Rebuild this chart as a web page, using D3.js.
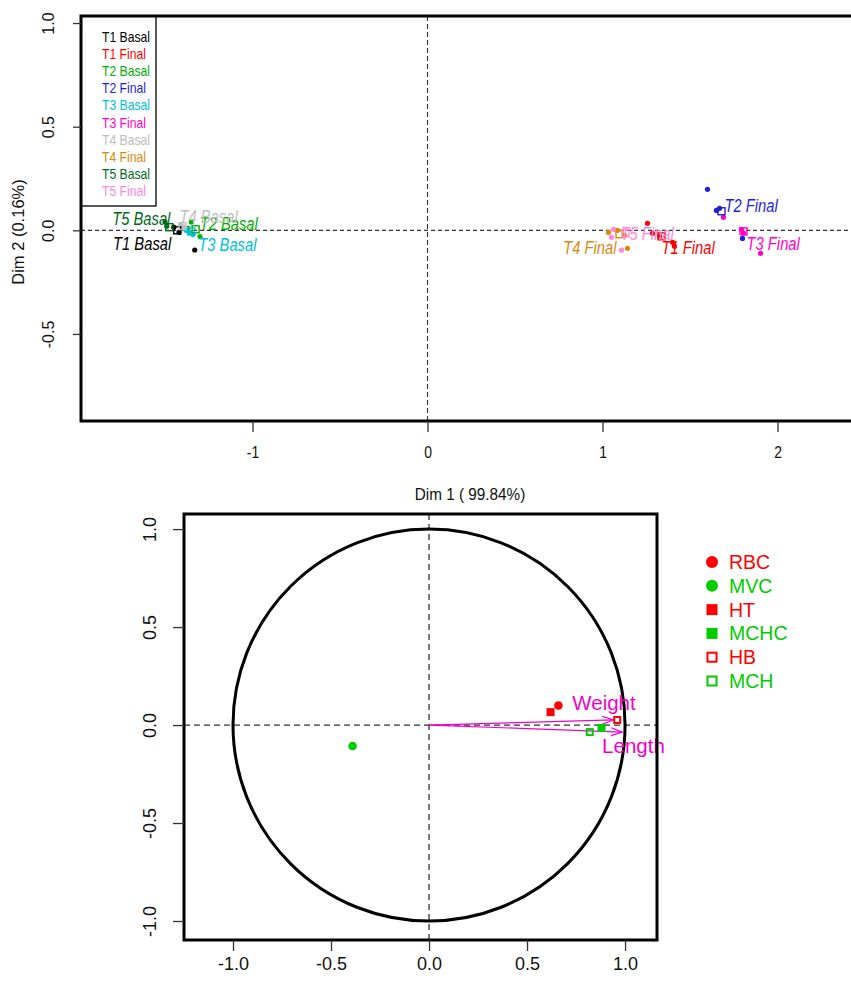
<!DOCTYPE html>
<html>
<head>
<meta charset="utf-8">
<script src="https://cdn.jsdelivr.net/npm/d3@7"></script>
<style>
  body { margin: 0; background: #fff; }
  svg { display: block; }
</style>
</head>
<body>
<div id="chart"></div>
<script>
// ---- individuals factor map (top) ----
var groups = ["T1 Basal", "T1 Final", "T2 Basal", "T2 Final", "T3 Basal",
              "T3 Final", "T4 Basal", "T4 Final", "T5 Basal", "T5 Final"];
var groupColors = ["#000000", "#ff0000", "#00b000", "#1f1fd8", "#00bfdf",
                   "#ff00cc", "#bebebe", "#d88a10", "#006a1a", "#ff88dd"];

// individual points per group [dim1, dim2]
var groupPoints = {
  "T1 Basal": [[-1.42, -0.01], [-1.33, -0.095], [-1.45, 0.015]],
  "T1 Final": [[1.257, 0.034], [1.286, -0.014], [1.326, -0.029], [1.411, -0.077], [1.40, -0.058]],
  "T2 Basal": [[-1.35, 0.04], [-1.30, -0.03], [-1.37, 0.01]],
  "T2 Final": [[1.60, 0.198], [1.651, 0.096], [1.669, 0.106], [1.80, -0.039]],
  "T3 Basal": [[-1.36, -0.01], [-1.38, 0.0], [-1.34, -0.02]],
  "T3 Final": [[1.691, 0.063], [1.794, 0.005], [1.806, -0.014], [1.903, -0.111]],
  "T4 Basal": [[-1.41, 0.025], [-1.39, 0.015]],
  "T4 Final": [[1.034, -0.01], [1.086, 0.0], [1.126, -0.024], [1.143, -0.087]],
  "T5 Basal": [[-1.50, 0.04], [-1.49, 0.02]],
  "T5 Final": [[1.051, -0.034], [1.109, -0.096], [1.063, 0.005]]
};
// group centres [dim1, dim2]
var groupMeans = {
  "T1 Basal": [-1.43, 0.0],
  "T1 Final": [1.337, -0.029],
  "T2 Basal": [-1.325, 0.005],
  "T2 Final": [1.68, 0.092],
  "T3 Basal": [-1.35, -0.005],
  "T3 Final": [1.806, -0.005],
  "T4 Basal": [-1.40, 0.02],
  "T4 Final": [1.097, -0.019],
  "T5 Basal": [-1.475, 0.015],
  "T5 Final": [1.131, -0.014]
};
// label placement relative to centre: [dx, dy, anchor]
var labelOffsets = {
  "T1 Basal": [-6, 13, "end"],
  "T1 Final": [0, 11, "start"],
  "T2 Basal": [4, -6, "start"],
  "T2 Final": [3, -6, "start"],
  "T3 Basal": [7, 13, "start"],
  "T3 Final": [3, 12, "start"],
  "T4 Basal": [-3, -9, "start"],
  "T4 Final": [-3, 13, "end"],
  "T5 Basal": [1, -9, "end"],
  "T5 Final": [-5, 0, "start"]
};
var topXTicks = [-1, 0, 1, 2];
var topYTicks = [-0.5, 0.0, 0.5, 1.0];

// ---- variables factor map (bottom) ----
var varNames = ["RBC", "MVC", "HT", "MCHC", "HB", "MCH"];
var varColors = ["#ff0000", "#00cc00", "#ff0000", "#00cc00", "#ff0000", "#00cc00"];
var varShapes = ["circle", "circle", "square", "square", "hollow", "hollow"];
var varCoords = [[0.66, 0.10], [-0.39, -0.107], [0.62, 0.066], [0.88, -0.015], [0.96, 0.026], [0.82, -0.036]];
var arrowNames = ["Weight", "Length"];
var arrowCoords = [[0.94, 0.026], [0.985, -0.036]];
var botTicks = [-1.0, -0.5, 0.0, 0.5, 1.0];

var W = 851, H = 981;
var NARROW = 0.82; // condensed look of the original (Arial Narrow)
var svg = d3.select("#chart").append("svg").attr("width", W).attr("height", H)
  .attr("font-family", "Liberation Sans, Arial, sans-serif");

// condensed text helper
function narrowText(sel, x, y, str, size, color, anchor, italic, k) {
  return sel.append("text")
    .attr("transform", "translate(" + x + "," + y + ") scale(" + (k || NARROW) + ",1)")
    .attr("dy", "0.35em")
    .attr("text-anchor", anchor || "start")
    .attr("font-style", italic ? "italic" : "normal")
    .attr("font-size", size)
    .attr("fill", color)
    .text(str);
}

// ================= TOP PANEL =================
var xTop = d3.scaleLinear().domain([-1.98, 2.6]).range([81, 882.5]);
var yTop = d3.scaleLinear().domain([-0.92, 1.034]).range([421, 16]);

var topG = svg.append("g");

svg.append("clipPath").attr("id", "clipTop")
  .append("rect").attr("x", 81).attr("y", 16).attr("width", W - 81).attr("height", 405);

var plotTop = topG.append("g").attr("clip-path", "url(#clipTop)");

// reference lines
plotTop.append("line")
  .attr("x1", 81).attr("x2", W).attr("y1", yTop(0)).attr("y2", yTop(0))
  .attr("stroke", "#333").attr("stroke-width", 1.3).attr("stroke-dasharray", "4,3");
plotTop.append("line")
  .attr("x1", xTop(0)).attr("x2", xTop(0)).attr("y1", 16).attr("y2", 421)
  .attr("stroke", "#333").attr("stroke-width", 1.1).attr("stroke-dasharray", "5,3");

// individuals
groups.forEach(function(g, i) {
  plotTop.selectAll(null).data(groupPoints[g]).enter().append("circle")
    .attr("cx", function(d) { return xTop(d[0]); })
    .attr("cy", function(d) { return yTop(d[1]); })
    .attr("r", 2.6)
    .attr("fill", groupColors[i]);
});
// group centres
groups.forEach(function(g, i) {
  var m = groupMeans[g];
  plotTop.append("rect")
    .attr("x", xTop(m[0]) - 3.5).attr("y", yTop(m[1]) - 3.5)
    .attr("width", 7).attr("height", 7)
    .attr("fill", "none").attr("stroke", groupColors[i]).attr("stroke-width", 1.4);
});
// group labels
groups.forEach(function(g, i) {
  var m = groupMeans[g], o = labelOffsets[g];
  narrowText(plotTop, xTop(m[0]) + o[0], yTop(m[1]) + o[1], g, 18, groupColors[i], o[2], true);
});

// legend
var leg = plotTop.append("g");
leg.append("rect").attr("x", 81).attr("y", 16).attr("width", 75).attr("height", 190)
  .attr("fill", "#fff").attr("stroke", "#000").attr("stroke-width", 1.3);
groups.forEach(function(g, i) {
  narrowText(leg, 102, 37 + i * 17.1, g, 14.5, groupColors[i], "start", false, 0.84);
});

// box
topG.append("path")
  .attr("d", "M" + (W + 5) + ",16 H81 V421 H" + (W + 5))
  .attr("fill", "none").attr("stroke", "#000").attr("stroke-width", 3);

// axes
var xAxisTop = topG.append("g").attr("transform", "translate(0,421)")
  .call(d3.axisBottom(xTop).tickValues(topXTicks).tickSize(11).tickPadding(14)
    .tickFormat(function(d) { return String(d); }));
xAxisTop.select(".domain").remove();
xAxisTop.selectAll("line").attr("stroke", "#333").attr("stroke-width", 1.3);
xAxisTop.selectAll("text").attr("font-size", 17).attr("fill", "#111")
  .attr("font-family", null)
  .attr("transform", "scale(0.82,1)");

var yAxisTop = topG.append("g").attr("transform", "translate(81,0)")
  .call(d3.axisLeft(yTop).tickValues(topYTicks).tickSize(8)
    .tickFormat(function(d) { return d.toFixed(1); }));
yAxisTop.select(".domain").remove();
yAxisTop.selectAll("line").attr("stroke", "#333").attr("stroke-width", 1.3);
yAxisTop.selectAll("text")
  .attr("font-size", 16).attr("fill", "#111")
  .attr("font-family", null)
  .attr("text-anchor", "middle")
  .attr("transform", "translate(-33,0) rotate(-90)")
  .attr("x", 0).attr("dy", "0.35em");

// axis titles (the x title is centred on the full, cropped plot width)
narrowText(topG, 470, 494, "Dim 1 ( 99.84%)", 17, "#111", "middle", false, 0.9);
topG.append("text").attr("transform", "translate(18,232) rotate(-90)")
  .attr("text-anchor", "middle").attr("dy", "0.35em")
  .attr("font-size", 16.5).attr("fill", "#111").text("Dim 2 (0.16%)");

// ================= BOTTOM PANEL =================
var xBot = d3.scaleLinear().domain([-1.25, 1.163]).range([184, 657]);
var yBot = d3.scaleLinear().domain([-1.097, 1.077]).range([940, 514]);

var bot = svg.append("g");

bot.append("line")
  .attr("x1", 184).attr("x2", 657).attr("y1", yBot(0)).attr("y2", yBot(0))
  .attr("stroke", "#333").attr("stroke-width", 1.3).attr("stroke-dasharray", "6,4");
bot.append("line")
  .attr("x1", xBot(0)).attr("x2", xBot(0)).attr("y1", 514).attr("y2", 940)
  .attr("stroke", "#333").attr("stroke-width", 1.3).attr("stroke-dasharray", "6,4");

// correlation circle
bot.append("ellipse")
  .attr("cx", xBot(0)).attr("cy", yBot(0))
  .attr("rx", xBot(1) - xBot(0)).attr("ry", yBot(0) - yBot(1))
  .attr("fill", "none").attr("stroke", "#000").attr("stroke-width", 3);

// arrows
svg.append("defs").append("marker")
  .attr("id", "ah").attr("viewBox", "0 0 12 10").attr("refX", 11).attr("refY", 5)
  .attr("markerWidth", 12).attr("markerHeight", 10).attr("markerUnits", "userSpaceOnUse")
  .attr("orient", "auto")
  .append("path").attr("d", "M0,1 L11,5 L0,9").attr("fill", "none")
  .attr("stroke", "#ee00cc").attr("stroke-width", 1.2);

bot.selectAll(".arr").data(arrowCoords).enter().append("line")
  .attr("x1", xBot(0)).attr("y1", yBot(0))
  .attr("x2", function(d) { return xBot(d[0]); })
  .attr("y2", function(d) { return yBot(d[1]); })
  .attr("stroke", "#ee00cc").attr("stroke-width", 1.2)
  .attr("marker-end", "url(#ah)");
bot.append("text").attr("x", xBot(arrowCoords[0][0]) - 41).attr("y", yBot(arrowCoords[0][1]) - 17)
  .attr("dy", "0.35em").attr("font-size", 20.5).attr("fill", "#ee00cc").text(arrowNames[0]);
bot.append("text").attr("x", xBot(arrowCoords[1][0]) - 20).attr("y", yBot(arrowCoords[1][1]) + 14)
  .attr("dy", "0.35em").attr("font-size", 20.5).attr("fill", "#ee00cc").text(arrowNames[1]);

// variable markers
function drawMarker(sel, shape, cx, cy, color, big) {
  var s = big ? 11 : 8;
  if (shape === "circle") {
    sel.append("circle").attr("cx", cx).attr("cy", cy).attr("r", big ? 6 : 4.3).attr("fill", color);
  } else if (shape === "square") {
    sel.append("rect").attr("x", cx - s / 2).attr("y", cy - s / 2).attr("width", s).attr("height", s).attr("fill", color);
  } else {
    sel.append("rect").attr("x", cx - s / 2 + 1).attr("y", cy - s / 2 + 1).attr("width", s - 2).attr("height", s - 2)
      .attr("fill", "none").attr("stroke", color).attr("stroke-width", 2);
  }
}
varCoords.forEach(function(d, i) {
  drawMarker(bot, varShapes[i], xBot(d[0]), yBot(d[1]), varColors[i], false);
});

// box
bot.append("rect").attr("x", 184).attr("y", 514).attr("width", 657 - 184).attr("height", 940 - 514)
  .attr("fill", "none").attr("stroke", "#000").attr("stroke-width", 3);

var xAxisBot = bot.append("g").attr("transform", "translate(0,940)")
  .call(d3.axisBottom(xBot).tickValues(botTicks).tickSize(11).tickPadding(6)
    .tickFormat(function(d) { return d.toFixed(1); }));
xAxisBot.select(".domain").remove();
xAxisBot.selectAll("line").attr("stroke", "#333").attr("stroke-width", 1.3);
xAxisBot.selectAll("text").attr("font-size", 18).attr("fill", "#111")
  .attr("font-family", null);

var yAxisBot = bot.append("g").attr("transform", "translate(184,0)")
  .call(d3.axisLeft(yBot).tickValues(botTicks).tickSize(11)
    .tickFormat(function(d) { return d.toFixed(1); }));
yAxisBot.select(".domain").remove();
yAxisBot.selectAll("line").attr("stroke", "#333").attr("stroke-width", 1.3);
yAxisBot.selectAll("text")
  .attr("font-size", 18).attr("fill", "#111")
  .attr("font-family", null)
  .attr("text-anchor", "middle")
  .attr("transform", "translate(-34,0) rotate(-90)")
  .attr("x", 0).attr("dy", "0.35em");

// legend
var legB = bot.append("g");
varNames.forEach(function(n, i) {
  var y = 562 + i * 23.8;
  drawMarker(legB, varShapes[i], 712, y, varColors[i], true);
  legB.append("text").attr("x", 729).attr("y", y).attr("dy", "0.36em")
    .attr("font-size", 19.5).attr("fill", varColors[i]).text(n);
});
</script>
</body>
</html>
